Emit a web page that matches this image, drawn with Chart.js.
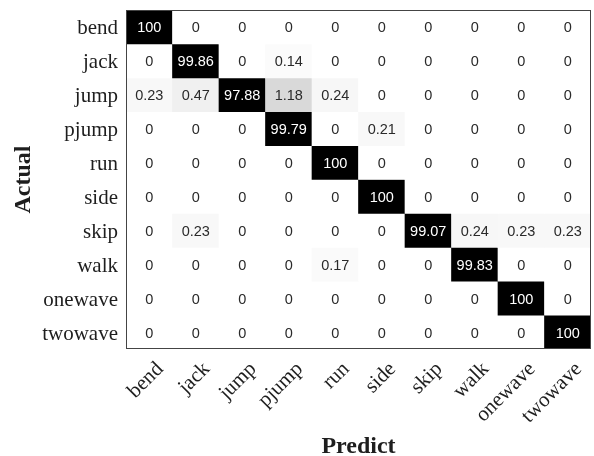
<!DOCTYPE html>
<html lang="en">
<head>
<meta charset="UTF-8">
<title>Confusion Matrix</title>
<script src="https://cdn.jsdelivr.net/npm/chart.js"></script>
<style>
  html, body { margin: 0; padding: 0; background: #fff; }
  #wrap { width: 594px; height: 456px; }
</style>
</head>
<body>
<div id="wrap"><canvas id="cm"></canvas></div>
<script>
// Activity classes, same order on both axes
const classes = ['bend', 'jack', 'jump', 'pjump', 'run', 'side', 'skip', 'walk', 'onewave', 'twowave'];

// One row per actual class, one column per predicted class (percent)
const rowBend    = [100, 0, 0, 0, 0, 0, 0, 0, 0, 0];
const rowJack    = [0, 99.86, 0, 0.14, 0, 0, 0, 0, 0, 0];
const rowJump    = [0.23, 0.47, 97.88, 1.18, 0.24, 0, 0, 0, 0, 0];
const rowPjump   = [0, 0, 0, 99.79, 0, 0.21, 0, 0, 0, 0];
const rowRun     = [0, 0, 0, 0, 100, 0, 0, 0, 0, 0];
const rowSide    = [0, 0, 0, 0, 0, 100, 0, 0, 0, 0];
const rowSkip    = [0, 0.23, 0, 0, 0, 0, 99.07, 0.24, 0.23, 0.23];
const rowWalk    = [0, 0, 0, 0, 0.17, 0, 0, 99.83, 0, 0];
const rowOnewave = [0, 0, 0, 0, 0, 0, 0, 0, 100, 0];
const rowTwowave = [0, 0, 0, 0, 0, 0, 0, 0, 0, 100];

const matrix = [rowBend, rowJack, rowJump, rowPjump, rowRun, rowSide, rowSkip, rowWalk, rowOnewave, rowTwowave];

// gray ramp, saturates to black well before 100 so small confusions still show
function cellColor(v) {
    const g = Math.round(255 * (1 - Math.min(v / 8, 1)));
    return `rgb(${g},${g},${g})`;
}

// each row is a set of floating bars spanning [r-0.5, r+0.5]
const datasets = matrix.map((row, r) => ({
    label: classes[r],
    data: row.map(() => [r - 0.5, r + 0.5]),
    backgroundColor: row.map(cellColor),
    borderWidth: 0,
    barPercentage: 1,
    categoryPercentage: 1,
    grouped: false
}));

// cell value text
const cellText = {
    id: 'cellText',
    afterDatasetsDraw(chart) {
        const ctx = chart.ctx;
        const xs = chart.scales.x;
        const ys = chart.scales.y;
        ctx.save();
        ctx.font = '14.5px "Liberation Sans", Arial, sans-serif';
        ctx.textAlign = 'center';
        ctx.textBaseline = 'middle';
        matrix.forEach((row, r) => {
            row.forEach((v, c) => {
                ctx.fillStyle = v > 50 ? '#ffffff' : '#2a2a2a';
                ctx.fillText(String(v), xs.getPixelForValue(c), ys.getPixelForValue(r) + 1.5);
            });
        });
        ctx.restore();
    }
};

// box round the plot area
const frame = {
    id: 'frame',
    afterDraw(chart) {
        const a = chart.chartArea;
        const ctx = chart.ctx;
        ctx.save();
        ctx.strokeStyle = '#444';
        ctx.lineWidth = 1;
        ctx.strokeRect(Math.round(a.left) + 0.5, Math.round(a.top) + 0.5,
            Math.round(a.right - a.left) - 1, Math.round(a.bottom - a.top) - 1);
        ctx.restore();
    }
};

const serif = '"Liberation Serif", "Times New Roman", serif';

new Chart(document.getElementById('cm').getContext('2d'), {
    type: 'bar',
    data: { labels: classes, datasets: datasets },
    options: {
        responsive: true,
        maintainAspectRatio: false,
        animation: false,
        layout: { padding: { top: 10, right: 3, left: 0, bottom: 0 } },
        plugins: { legend: { display: false }, tooltip: { enabled: false } },
        scales: {
            x: {
                type: 'category',
                offset: true,
                grid: { display: false, drawTicks: false },
                border: { display: false },
                afterFit: s => {
                    s.height = 107;
                    s.paddingLeft = 0;
                    s.paddingRight = 0;
                },
                ticks: {
                    autoSkip: false,
                    minRotation: 45,
                    maxRotation: 45,
                    padding: 8,
                    labelOffset: 11,
                    color: '#1e1e1e',
                    font: { family: serif, size: 21 }
                },
                title: {
                    display: true,
                    text: 'Predict',
                    color: '#1e1e1e',
                    font: { family: serif, size: 24, weight: 'bold', lineHeight: 0.8 },
                    padding: { top: 0, bottom: 0 }
                }
            },
            y: {
                type: 'linear',
                min: -0.5,
                max: 9.5,
                reverse: true,
                grid: { display: false, drawTicks: false },
                border: { display: false },
                afterBuildTicks: s => { s.ticks = classes.map((_, i) => ({ value: i })); },
                afterFit: s => {
                    s.width = 126;
                    s.paddingTop = 0;
                    s.paddingBottom = 0;
                },
                ticks: {
                    padding: 8,
                    labelOffset: 2,
                    color: '#1e1e1e',
                    font: { family: serif, size: 21 },
                    callback: (v, i) => classes[i]
                },
                title: {
                    display: true,
                    text: 'Actual',
                    color: '#1e1e1e',
                    font: { family: serif, size: 24, weight: 'bold', lineHeight: 0.8 },
                    padding: { top: 14, bottom: 0 }
                }
            }
        }
    },
    plugins: [cellText, frame]
});
</script>
</body>
</html>
